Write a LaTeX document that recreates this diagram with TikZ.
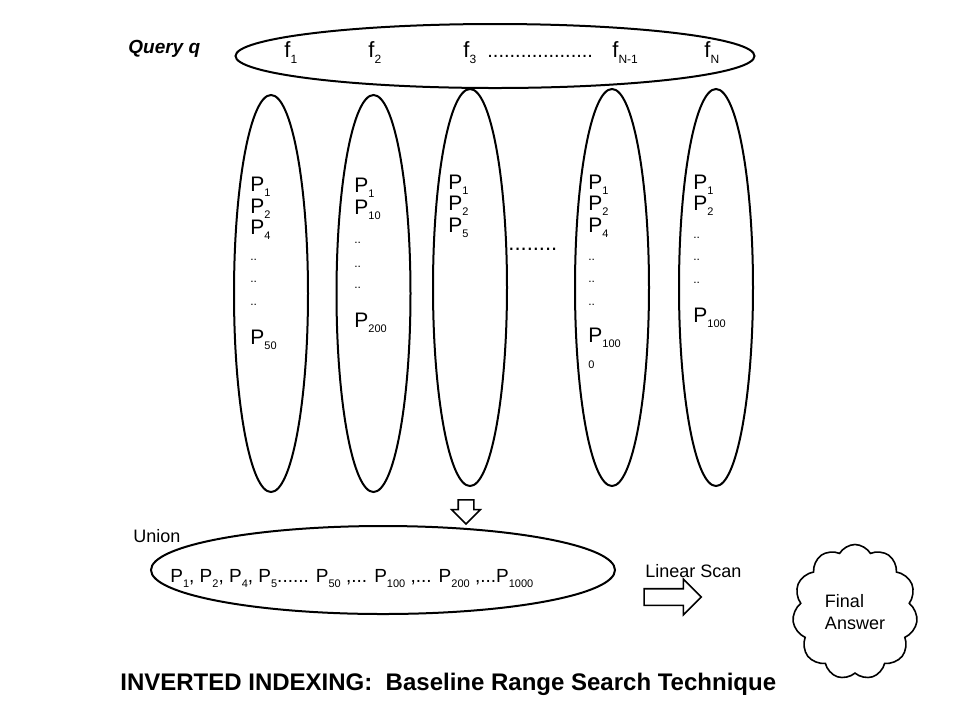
\documentclass[tikz,border=0pt]{standalone}
\usepackage{fontspec}
\setmainfont{Liberation Sans}
\usetikzlibrary{shapes.geometric,shapes.symbols,shapes.arrows}

\newcommand{\lowsub}[1]{\raisebox{-2.5pt}{\fontsize{5.5}{6}\selectfont #1}}
\newcommand{\pname}[1]{P\lowsub{#1}}
\newcommand{\fname}[1]{f\raisebox{-3pt}{\fontsize{6}{6}\selectfont #1}}

\tikzset{
  plist/.style={draw, ellipse, line width=1pt, inner sep=0pt,
    minimum width=37pt, minimum height=198.5pt},
  ptext/.style={anchor=base west, inner sep=0pt, font=\fontsize{10.5}{12}\selectfont},
  gap/.style={anchor=base west, inner sep=0pt, font=\fontsize{6}{6}\selectfont},
  label/.style={anchor=base west, inner sep=0pt, font=\fontsize{9}{11}\selectfont},
  blockarrow/.style={draw, single arrow, line width=0.8pt, inner xsep=0pt,
    single arrow head indent=0pt}
}

\begin{document}
\begin{tikzpicture}[x=0.5pt, y=-0.5pt]
  \useasboundingbox (0,0) rectangle (960,720);

  % query
  \node[label, font=\fontsize{9.5}{11}\selectfont\bfseries\itshape] (qname) at (128,53) {Query q};
  \node[draw, ellipse, line width=1pt, inner sep=0pt,
    minimum width=259.5pt, minimum height=32pt] (query) at (495,56) {};
  \node[ptext, font=\fontsize{11}{12}\selectfont] (f1) at (284,57) {\fname{1}};
  \node[ptext, font=\fontsize{11}{12}\selectfont] (f2) at (368,57) {\fname{2}};
  \node[ptext, font=\fontsize{11}{12}\selectfont] (f3) at (463,57) {\fname{3}};
  \node[ptext, font=\fontsize{10}{12}\selectfont] (fdots) at (487,57) {...................};
  \node[ptext, font=\fontsize{11}{12}\selectfont] (fm) at (612,57) {\fname{N-1}};
  \node[ptext, font=\fontsize{11}{12}\selectfont] (fn) at (704,57) {\fname{N}};

  % posting lists
  \node[plist] (l1) at (271,293.5) {};
  \node[plist] (l2) at (373.5,293.5) {};
  \node[plist] (l3) at (470,287.5) {};
  \node[plist] (l4) at (612,287.5) {};
  \node[plist] (l5) at (716,287.5) {};

  \node[ptext] (a1) at (250,191) {\pname{1}};
  \node[ptext] (a2) at (250,213) {\pname{2}};
  \node[ptext] (a3) at (250,234) {\pname{4}};
  \node[gap] (a4) at (250,260) {..};
  \node[gap] (a5) at (250,282) {..};
  \node[gap] (a6) at (250,305) {..};
  \node[ptext] (a7) at (250,344) {\pname{50}};

  \node[ptext] (b1) at (354,192) {\pname{1}};
  \node[ptext] (b2) at (354,214) {\pname{10}};
  \node[gap] (b3) at (354,243) {..};
  \node[gap] (b4) at (354,267) {..};
  \node[gap] (b5) at (354,288) {..};
  \node[ptext] (b6) at (354,327) {\pname{200}};

  \node[ptext] (c1) at (448,189) {\pname{1}};
  \node[ptext] (c2) at (448,210) {\pname{2}};
  \node[ptext] (c3) at (448,232) {\pname{5}};

  \node[ptext, font=\fontsize{11}{12}\selectfont] (mdots) at (508,250) {........};

  \node[ptext] (d1) at (588,189) {\pname{1}};
  \node[ptext] (d2) at (588,210) {\pname{2}};
  \node[ptext] (d3) at (588,232) {\pname{4}};
  \node[gap] (d4) at (588,260) {..};
  \node[gap] (d5) at (588,282) {..};
  \node[gap] (d6) at (588,305) {..};
  \node[ptext] (d7) at (588,342) {\pname{100}};
  \node[gap, font=\fontsize{5.5}{6}\selectfont] (d8) at (588,368) {0};

  \node[ptext] (e1) at (693,189) {\pname{1}};
  \node[ptext] (e2) at (693,210) {\pname{2}};
  \node[gap] (e3) at (693,238) {..};
  \node[gap] (e4) at (693,260) {..};
  \node[gap] (e5) at (693,283) {..};
  \node[ptext] (e6) at (693,322) {\pname{100}};

  % union
  \node[blockarrow, minimum height=12pt, minimum width=13.5pt, inner ysep=3.5pt,
    single arrow head extend=3.25pt, rotate=-90] (down) at (466,508) {};
  \node[label] (uname) at (133,542) {Union};
  \node[draw, ellipse, line width=1pt, inner sep=0pt,
    minimum width=232pt, minimum height=44pt] (union) at (383,570) {};
  \node[ptext, font=\fontsize{9.5}{11}\selectfont] (utext) at (170,582)
    {\pname{1}, \pname{2}, \pname{4}, \pname{5}...... \pname{50} ,... \pname{100} ,... \pname{200} ,...\pname{1000}};

  % scan
  \node[label] (scan) at (645,577) {Linear Scan};
  \node[blockarrow, minimum height=28.5pt, minimum width=17pt, inner ysep=3.75pt,
    single arrow head extend=4.75pt] (right) at (668.5,597) {};
  \node[draw, cloud, cloud puffs=11, cloud puff arc=120, line width=0.8pt, inner sep=0pt,
    minimum width=62.5pt, minimum height=67.5pt, align=left,
    font=\fontsize{9}{11}\selectfont] (answer) at (855,612) {Final\\Answer};

  \node[label, font=\fontsize{12}{14}\selectfont\bfseries] (title) at (120,690)
    {INVERTED INDEXING:\ \ Baseline Range Search Technique};
\end{tikzpicture}
\end{document}
